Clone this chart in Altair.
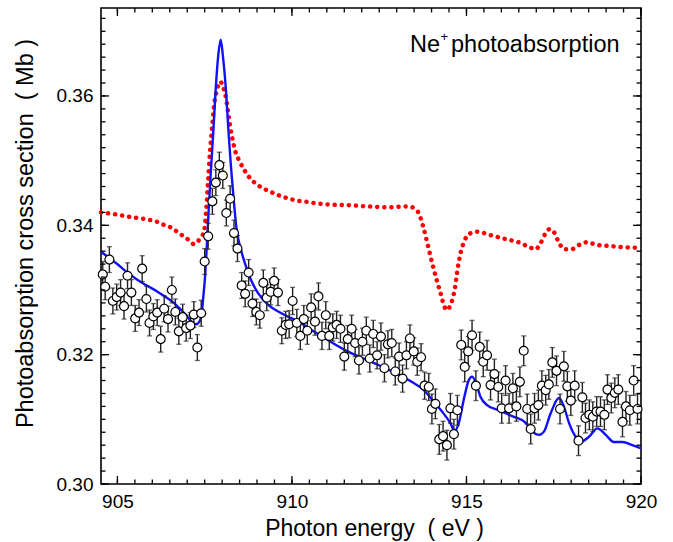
import altair as alt
import pandas as pd

# ---------------- data ----------------
energy = [904.58, 904.65, 904.77, 904.87, 904.98, 905.09, 905.19, 905.29, 905.40, 905.51,
          905.62, 905.71, 905.83, 905.92, 906.03, 906.14, 906.24, 906.34, 906.45, 906.56,
          906.66, 906.76, 906.87, 906.97, 907.09, 907.19, 907.29, 907.40, 907.50, 907.60,
          907.72, 907.82, 907.92, 908.02, 908.12, 908.23, 908.34, 908.44, 908.56, 908.66,
          908.76, 908.87, 908.98, 909.08, 909.18, 909.28, 909.39, 909.49, 909.60, 909.71,
          909.82, 909.92, 910.02, 910.14, 910.24, 910.34, 910.44, 910.55, 910.66, 910.76,
          910.86, 910.97, 911.07, 911.17, 911.28, 911.39, 911.50, 911.60, 911.71, 911.81,
          911.92, 912.02, 912.13, 912.23, 912.33, 912.44, 912.55, 912.65, 912.75, 912.86,
          912.96, 913.07, 913.17, 913.28, 913.38, 913.49, 913.59, 913.70, 913.80, 913.92,
          914.01, 914.11, 914.22, 914.33, 914.44, 914.54, 914.64, 914.74, 914.85, 914.95,
          915.05, 915.16, 915.27, 915.38, 915.48, 915.59, 915.69, 915.80, 915.91, 916.01,
          916.12, 916.22, 916.33, 916.43, 916.53, 916.64, 916.74, 916.84, 916.95, 917.06,
          917.16, 917.27, 917.36, 917.46, 917.58, 917.68, 917.79, 917.89, 917.99, 918.10,
          918.21, 918.32, 918.41, 918.52, 918.62, 918.73, 918.84, 918.95, 919.04, 919.15,
          919.25, 919.35, 919.47, 919.57, 919.68, 919.79, 919.90]

sigma = [0.3324, 0.3305, 0.3347, 0.3283, 0.3289, 0.3296, 0.3275, 0.3322, 0.3296, 0.3256,
         0.3265, 0.3333, 0.3286, 0.3249, 0.3259, 0.3265, 0.3224, 0.3271, 0.3255, 0.3300,
         0.3266, 0.3236, 0.3258, 0.3241, 0.3245, 0.3262, 0.3211, 0.3264, 0.3344, 0.3383,
         0.3437, 0.3466, 0.3493, 0.3477, 0.3419, 0.3441, 0.3388, 0.3364, 0.3307, 0.3294,
         0.3327, 0.3279, 0.3266, 0.3261, 0.3311, 0.3288, 0.3297, 0.3314, 0.3296, 0.3237,
         0.3246, 0.3247, 0.3283, 0.3249, 0.3229, 0.3255, 0.3237, 0.3273, 0.3251, 0.3290,
         0.3229, 0.3261, 0.3229, 0.3242, 0.3246, 0.3240, 0.3197, 0.3224, 0.3240, 0.3218,
         0.3191, 0.3220, 0.3237, 0.3194, 0.3232, 0.3199, 0.3228, 0.3179, 0.3216, 0.3218,
         0.3174, 0.3197, 0.3163, 0.3199, 0.3225, 0.3205, 0.3189, 0.3196, 0.3152, 0.3150,
         0.3116, 0.3124, 0.3069, 0.3074, 0.3060, 0.3117, 0.3077, 0.3114, 0.3215, 0.3181,
         0.3205, 0.3230, 0.3152, 0.3212, 0.3189, 0.3199, 0.3153, 0.3170, 0.3150, 0.3117,
         0.3160, 0.3117, 0.3148, 0.3120, 0.3158, 0.3206, 0.3116, 0.3085, 0.3117, 0.3122,
         0.3152, 0.3145, 0.3154, 0.3188, 0.3175, 0.3116, 0.3182, 0.3151, 0.3129, 0.3152,
         0.3067, 0.3134, 0.3102, 0.3107, 0.3104, 0.3112, 0.3112, 0.3107, 0.3146, 0.3133,
         0.3141, 0.3146, 0.3096, 0.3120, 0.3114, 0.3160, 0.3116]

err = [0.0020] * 50 + [0.0021] * 40 + [0.0023] * 57

blue_e = [904.53, 905.02, 905.31, 905.59, 906.16, 906.64, 906.97, 907.16, 907.26, 907.35,
          907.42, 907.46, 907.51, 907.56, 907.62, 907.68, 907.75, 907.82, 907.89, 907.96,
          908.02, 908.11, 908.18, 908.25, 908.32, 908.41, 908.54, 908.65, 908.80, 909.03,
          909.32, 909.70, 910.18, 910.71, 911.52, 912.48, 913.43, 913.78, 914.02, 914.30,
          914.54, 914.66, 914.78, 914.92, 915.07, 915.16, 915.27, 915.40, 915.59, 915.92,
          916.31, 916.69, 916.89, 917.08, 917.22, 917.41, 917.65, 917.79, 917.94, 918.13,
          918.30, 918.51, 918.75, 918.99, 919.22, 919.47, 919.75, 920.0]
blue_s = [0.3359, 0.3339, 0.3326, 0.3315, 0.3297, 0.3279, 0.3261, 0.3249, 0.3247, 0.3251,
          0.3266, 0.3289, 0.3320, 0.3367, 0.3429, 0.3486, 0.3547, 0.3614, 0.3663, 0.3687,
          0.3663, 0.3609, 0.3547, 0.3493, 0.3447, 0.3396, 0.3362, 0.3342, 0.3319, 0.3295,
          0.3277, 0.3264, 0.3251, 0.3233, 0.3207, 0.3184, 0.3158, 0.3145, 0.3130, 0.3112,
          0.3094, 0.3082, 0.3094, 0.3130, 0.3161, 0.3166, 0.3156, 0.3135, 0.3122, 0.3114,
          0.3105, 0.3095, 0.3081, 0.3076, 0.3081, 0.3109, 0.3133, 0.3120, 0.3094, 0.3073,
          0.3066, 0.3073, 0.3086, 0.3076, 0.3065, 0.3065, 0.3060, 0.3055]

red_e = [904.53, 904.93, 905.36, 905.76, 906.16, 906.36, 906.56, 906.76, 906.98, 907.19,
         907.36, 907.48, 907.54, 907.59, 907.65, 907.71, 907.77, 907.85, 907.95, 908.04,
         908.11, 908.19, 908.28, 908.37, 908.51, 908.74, 908.91, 909.14, 909.34, 909.54,
         909.74, 909.94, 910.14, 910.34, 910.57, 911.09, 911.66, 912.23, 912.80, 913.23,
         913.43, 913.61, 913.75, 913.89, 914.03, 914.15, 914.28, 914.35, 914.44, 914.55,
         914.66, 914.75, 914.84, 914.95, 915.09, 915.32, 915.67, 916.10, 916.53, 916.81,
         916.98, 917.13, 917.27, 917.38, 917.50, 917.64, 917.81, 918.01, 918.24, 918.47,
         918.70, 919.10, 919.53, 920.0]
red_s = [0.3420, 0.3417, 0.3413, 0.3410, 0.3405, 0.3400, 0.3396, 0.3388, 0.3380, 0.3371,
         0.3379, 0.3390, 0.3421, 0.3462, 0.3512, 0.3550, 0.3586, 0.3609, 0.3622, 0.3612,
         0.3597, 0.3568, 0.3538, 0.3516, 0.3498, 0.3477, 0.3467, 0.3458, 0.3453, 0.3448,
         0.3444, 0.3441, 0.3438, 0.3437, 0.3435, 0.3432, 0.3431, 0.3429, 0.3428, 0.3429,
         0.3428, 0.3421, 0.3400, 0.3370, 0.3339, 0.3315, 0.3291, 0.3277, 0.3269, 0.3278,
         0.3300, 0.3334, 0.3359, 0.3377, 0.3387, 0.3390, 0.3385, 0.3379, 0.3373, 0.3366,
         0.3363, 0.3373, 0.3388, 0.3394, 0.3390, 0.3374, 0.3363, 0.3363, 0.3370, 0.3374,
         0.3370, 0.3368, 0.3366, 0.3365]

x_major = [905, 910, 915, 920]
x_minor = [905 + 0.5 * i for i in range(31)]
y_major = [0.30, 0.32, 0.34, 0.36]
y_minor = [round(0.30 + 0.002 * i, 3) for i in range(37)]

x_title = "Photon energy\u00a0\u00a0( eV )"
y_title = "Photoabsorption cross section\u00a0\u00a0( Mb )"

FONT = "Liberation Sans"
XDOM = [904.53, 920.0]
YDOM = [0.30, 0.3736]
W, H = 540, 476
MAJ, MIN = 8, 4.5

# ---------------- frames ----------------
pts = pd.DataFrame({"E": energy, "S": sigma, "err": err})
pts["lo"] = pts["S"] - pts["err"]
pts["hi"] = pts["S"] + pts["err"]
blue = pd.DataFrame({"E": blue_e, "S": blue_s})
red = pd.DataFrame({"E": red_e, "S": red_s})
xmaj = pd.DataFrame({"v": x_major})
xmin = pd.DataFrame({"v": x_minor})
ymaj = pd.DataFrame({"v": y_major})
ymin = pd.DataFrame({"v": y_minor})

xs = alt.Scale(domain=XDOM, nice=False, zero=False)
ys = alt.Scale(domain=YDOM, nice=False, zero=False)

x_main = alt.Axis(orient="bottom", values=x_major, format="d", ticks=False, domain=False,
                  grid=False, labelFont=FONT, labelFontSize=19, labelColor="black",
                  labelPadding=8, labelFlush=False, labelOverlap=False,
                  title=x_title, titleFont=FONT, titleFontSize=23, titleFontWeight="normal",
                  titleColor="black", titleX=273, titleY=44, titleBaseline="middle",
                  titleAlign="center")
y_main = alt.Axis(orient="left", values=y_major, format=".2f", ticks=False, domain=False,
                  grid=False, labelFont=FONT, labelFontSize=19, labelColor="black",
                  labelPadding=8, labelFlush=False, labelOverlap=False,
                  title=y_title, titleFont=FONT, titleFontSize=23.5, titleFontWeight="normal",
                  titleColor="black", titleX=-76, titleY=225, titleBaseline="middle",
                  titleAlign="center", titleAngle=270)

red_line = alt.Chart(red).mark_line(
    color="#ff0000", strokeWidth=4.5, strokeDash=[0.1, 7], strokeCap="round",
    interpolate="monotone"
).encode(
    x=alt.X("E:Q", scale=xs, axis=x_main),
    y=alt.Y("S:Q", scale=ys, axis=y_main),
)

blue_line = alt.Chart(blue).mark_line(
    color="#1010ff", strokeWidth=2.4, interpolate="monotone"
).encode(
    x=alt.X("E:Q", scale=xs, axis=None),
    y=alt.Y("S:Q", scale=ys, axis=None),
)

bars = alt.Chart(pts).mark_rule(color="#222222", strokeWidth=1.4).encode(
    x=alt.X("E:Q", scale=xs, axis=None),
    y=alt.Y("lo:Q", scale=ys, axis=None),
    y2="hi:Q",
)

cap_lo = alt.Chart(pts).mark_tick(color="#222222", orient="horizontal", size=5, thickness=1.3).encode(
    x=alt.X("E:Q", scale=xs, axis=None),
    y=alt.Y("lo:Q", scale=ys, axis=None),
)

cap_hi = alt.Chart(pts).mark_tick(color="#222222", orient="horizontal", size=5, thickness=1.3).encode(
    x=alt.X("E:Q", scale=xs, axis=None),
    y=alt.Y("hi:Q", scale=ys, axis=None),
)

circles = alt.Chart(pts).mark_point(
    shape="circle", size=80, filled=True, fill="white", stroke="black", strokeWidth=1.2, opacity=1
).encode(
    x=alt.X("E:Q", scale=xs, axis=None),
    y=alt.Y("S:Q", scale=ys, axis=None),
)


# inward ticks on all four sides, placed through the shared scales
def xticks(df, length):
    bottom = alt.Chart(df).mark_rule(color="black", strokeWidth=1.3).encode(
        x=alt.X("v:Q", scale=xs, axis=None), y=alt.value(H), y2=alt.value(H - length))
    top = alt.Chart(df).mark_rule(color="black", strokeWidth=1.3).encode(
        x=alt.X("v:Q", scale=xs, axis=None), y=alt.value(0), y2=alt.value(length))
    return [bottom, top]


def yticks(df, length):
    left = alt.Chart(df).mark_rule(color="black", strokeWidth=1.3).encode(
        y=alt.Y("v:Q", scale=ys, axis=None), x=alt.value(0), x2=alt.value(length))
    right = alt.Chart(df).mark_rule(color="black", strokeWidth=1.3).encode(
        y=alt.Y("v:Q", scale=ys, axis=None), x=alt.value(W), x2=alt.value(W - length))
    return [left, right]


tick_layers = xticks(xmin, MIN) + xticks(xmaj, MAJ) + yticks(ymin, MIN) + yticks(ymaj, MAJ)

lab = pd.DataFrame({"a": ["Ne"], "b": ["+"], "c": ["photoabsorption"]})
t1 = alt.Chart(lab).mark_text(font=FONT, fontSize=23.5, align="left", baseline="alphabetic",
                              color="black").encode(
    x=alt.value(309), y=alt.value(44), text="a:N")
t2 = alt.Chart(lab).mark_text(font=FONT, fontSize=13, align="left", baseline="alphabetic",
                              color="black").encode(
    x=alt.value(339.5), y=alt.value(33), text="b:N")
t3 = alt.Chart(lab).mark_text(font=FONT, fontSize=23.5, align="left", baseline="alphabetic",
                              color="black").encode(
    x=alt.value(350), y=alt.value(44), text="c:N")

chart = alt.layer(
    red_line, blue_line, bars, cap_lo, cap_hi, circles, *tick_layers, t1, t2, t3
).resolve_scale(
    x="shared", y="shared"
).resolve_axis(
    x="independent", y="independent"
).properties(
    width=W, height=H,
    autosize=alt.AutoSizeParams(type="none"),
    padding={"left": 101, "top": 8, "right": 32, "bottom": 58},
    background="white",
).configure_view(
    stroke="black", strokeWidth=1.6
)

chart.save("out.html", embed_options={"renderer": "svg", "actions": False})
